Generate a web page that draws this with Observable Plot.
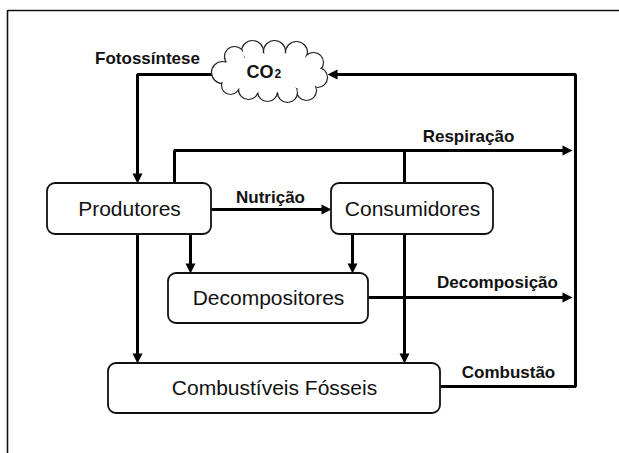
<!DOCTYPE html>
<html>
<head>
<meta charset="utf-8">
<script src="https://cdn.jsdelivr.net/npm/d3@7"></script>
<script src="https://cdn.jsdelivr.net/npm/@observablehq/plot@0.6"></script>
<style>
  html, body { margin: 0; padding: 0; background: #fff; overflow: hidden; }
  #chart svg { display: block; }
</style>
</head>
<body>
<div id="chart"></div>
<script>
// ---- diagram content ----
const boxLabels = ["Produtores", "Consumidores", "Decompositores", "Combustíveis Fósseis"];
const boxLeft   = [47, 331, 168, 108];
const boxRight  = [211, 493, 368, 440];
const boxTop    = [183, 183, 273, 363];
const boxBottom = [234, 234, 323, 413];

const flowLabels = ["Fotossíntese", "Respiração", "Nutrição", "Decomposição", "Combustão"];
const flowLabelX = [147, 468, 270, 497, 508];
const flowLabelY = [58, 136, 197, 282, 372];

const gasText = ["CO", "2"];

// connector paths (diagram coordinates); arrow = arrowhead at last point
const flowPaths = [
  {id: "fotossintese", arrow: true,  pts: [[212, 74], [137, 74], [137, 183]]},
  {id: "combustao",    arrow: true,  pts: [[440, 386], [575, 386], [575, 74], [327, 74]]},
  {id: "respiracao",   arrow: true,  pts: [[174, 183], [174, 150], [572, 150]]},
  {id: "respiracaoC",  arrow: false, pts: [[404, 183], [404, 150]]},
  {id: "nutricao",     arrow: true,  pts: [[211, 209], [331, 209]]},
  {id: "prod-dec",     arrow: true,  pts: [[190, 234], [190, 273]]},
  {id: "cons-dec",     arrow: true,  pts: [[352, 234], [352, 273]]},
  {id: "prod-foss",    arrow: true,  pts: [[137, 234], [137, 363]]},
  {id: "cons-foss",    arrow: true,  pts: [[404, 234], [404, 363]]},
  {id: "decomposicao", arrow: true,  pts: [[368, 297], [572, 297]]}
];

// outer frame (open on the right and bottom)
const framePts = [[619, 10], [7, 10], [7, 453]];

// cloud outline bumps (x, y, radius)
const cloudX = [222, 234, 252, 274, 296, 313, 317, 306, 287, 267, 248, 230];
const cloudY = [72, 56, 51, 51, 52, 62, 77, 90, 92, 91, 89, 85];
const cloudR = [11, 10, 11, 11, 11, 10, 10, 10, 10, 10, 10, 9];
const cloudCoreX = [238, 258, 280, 300];
const cloudCoreR = [16, 20, 20, 16];

// ---- build tables ----
const boxes = boxLabels.map((label, i) => ({
  label, x1: boxLeft[i], x2: boxRight[i], y1: boxTop[i], y2: boxBottom[i],
  cx: (boxLeft[i] + boxRight[i]) / 2, cy: (boxTop[i] + boxBottom[i]) / 2
}));
const labels = flowLabels.map((label, i) => ({label, x: flowLabelX[i], y: flowLabelY[i]}));

const HEAD = 10;
const linePoints = [];
const heads = [];
flowPaths.forEach(p => {
  const pts = p.pts.map(d => d.slice());
  if (p.arrow) {
    const n = pts.length;
    const [xa, ya] = pts[n - 2], [xb, yb] = pts[n - 1];
    const dx = Math.sign(xb - xa), dy = Math.sign(yb - ya);
    pts[n - 1] = [xb - dx * (HEAD - 2), yb - dy * (HEAD - 2)];
    const rotate = dx > 0 ? 90 : dx < 0 ? 270 : dy > 0 ? 180 : 0;
    heads.push({x: xb, y: yb, rotate});
  }
  pts.forEach(([x, y]) => linePoints.push({id: p.id, x, y}));
});
const frame = framePts.map(([x, y]) => ({x, y}));

const cloud = cloudX.map((x, i) => ({x, y: cloudY[i], r: cloudR[i]}));
const cloudCore = cloudCoreX.map((x, i) => ({x, y: 72, r: cloudCoreR[i]}));

const FONT = "'Liberation Sans', Arial, Helvetica, sans-serif";

const triangle = {
  draw(context, l) {
    context.moveTo(0, -l);
    context.lineTo(-5, 0);
    context.lineTo(5, 0);
    context.closePath();
  }
};

const chart = Plot.plot({
  width: 619,
  height: 453,
  margin: 0,
  x: {domain: [0, 619], axis: null},
  y: {domain: [0, 453], reverse: true, axis: null},
  r: {type: "identity"},
  style: {background: "#fff", fontFamily: FONT},
  marks: [
    // outer frame
    Plot.line(frame, {x: "x", y: "y", stroke: "#111", strokeWidth: 1.6, strokeLinejoin: "miter"}),
    // connectors
    Plot.line(linePoints, {x: "x", y: "y", z: "id", stroke: "#000", strokeWidth: 3,
      strokeLinejoin: "miter", strokeLinecap: "butt", curve: "linear"}),
    Plot.vector(heads, {x: "x", y: "y", rotate: "rotate", length: HEAD, anchor: "end",
      shape: triangle, fill: "#000", stroke: "none"}),
    // boxes
    Plot.rect(boxes, {x1: "x1", x2: "x2", y1: "y1", y2: "y2", rx: 8, fill: "#fff",
      stroke: "#111", strokeWidth: 1.8}),
    Plot.text(boxes, {x: "cx", y: "cy", text: "label", fontSize: 21, fill: "#111",
      fontFamily: FONT}),
    // cloud
    Plot.dot(cloud, {x: "x", y: "y", r: "r", fill: "#fff", stroke: "#222", strokeWidth: 1.2}),
    Plot.dot(cloud, {x: "x", y: "y", r: d => d.r - 1.2, fill: "#fff", stroke: "none"}),
    Plot.dot(cloudCore, {x: "x", y: "y", r: "r", fill: "#fff", stroke: "none"}),
    Plot.text([gasText[0]], {x: 273, y: 72, text: d => d, textAnchor: "end", fontSize: 18,
      fontWeight: "bold", fill: "#111", fontFamily: FONT}),
    Plot.text([gasText[1]], {x: 274, y: 74, text: d => d, textAnchor: "start", fontSize: 12,
      fontWeight: "bold", fill: "#111", fontFamily: FONT}),
    // flow labels
    Plot.text(labels, {x: "x", y: "y", text: "label", fontSize: 17, fontWeight: "bold",
      fill: "#111", fontFamily: FONT})
  ]
});
document.getElementById("chart").appendChild(chart);
</script>
</body>
</html>
